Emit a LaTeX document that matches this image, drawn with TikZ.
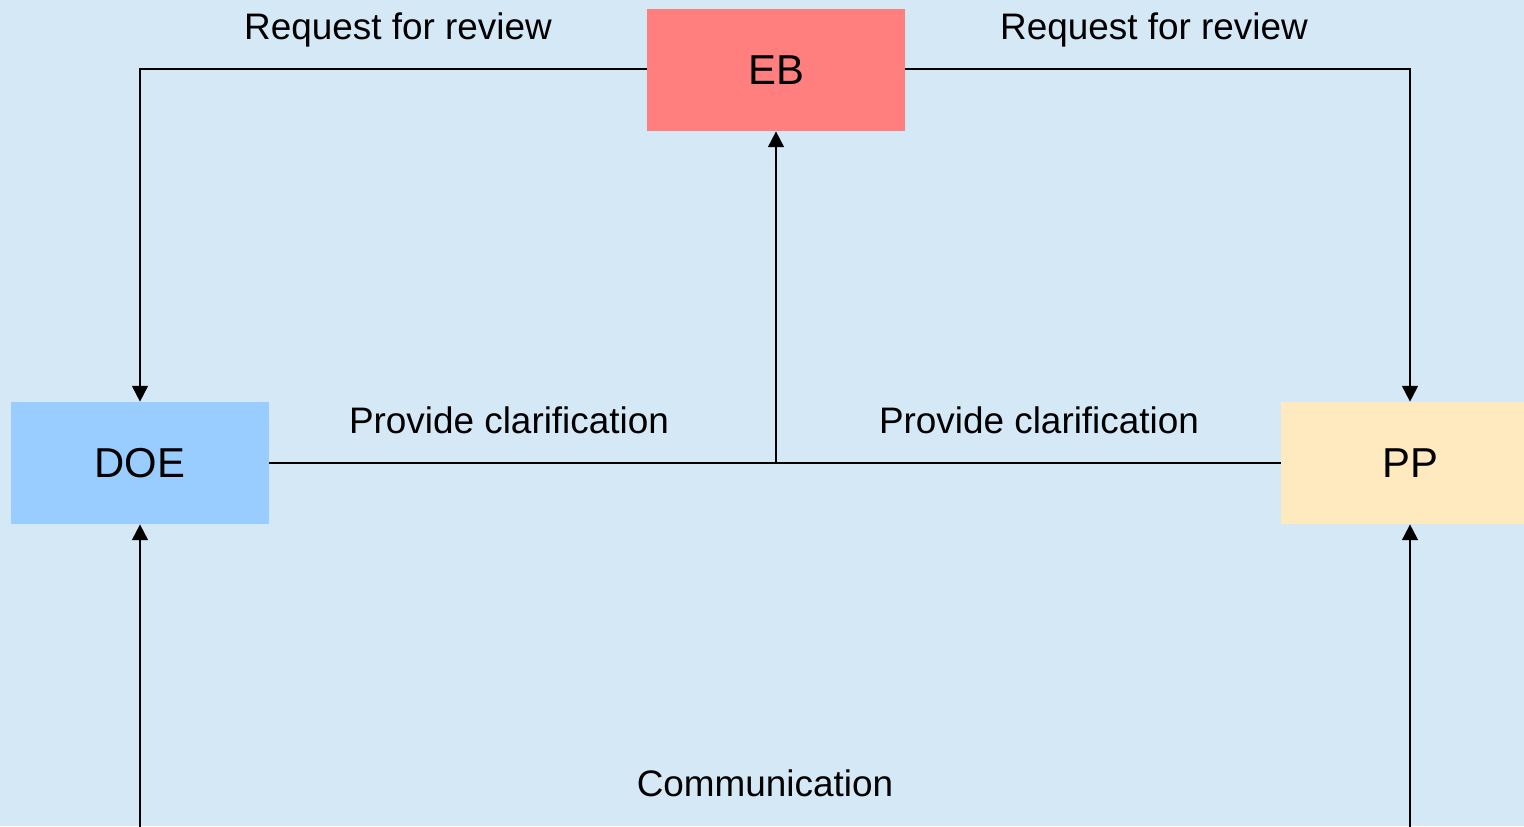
\documentclass[tikz,border=0pt]{standalone}
\usepackage{fontspec}
\setmainfont{Liberation Sans}
\usetikzlibrary{arrows.meta}
\definecolor{bgblue}{RGB}{213,232,245}
\definecolor{ebred}{RGB}{255,127,127}
\definecolor{doeblue}{RGB}{153,204,255}
\definecolor{ppcream}{RGB}{255,233,191}
\tikzset{
  entity/.style={minimum width=258*0.02cm, minimum height=122*0.02cm, inner sep=0pt,
    font=\fontsize{23.8}{28}\selectfont},
  flow/.style={line width=1.1pt, draw=black},
  arr/.style={flow, -{Triangle[length=9pt,width=9pt]}},
  lbl/.style={anchor=base, inner sep=0pt, font=\fontsize{21}{25}\selectfont}
}
\begin{document}
\begin{tikzpicture}[x=0.02cm, y=-0.02cm]
  \useasboundingbox (0,0) rectangle (1524,826);
  \fill[bgblue] (0,0) rectangle (1524,826);
  \clip (0,0) rectangle (1524,826);

  % organisations
  \node[entity, fill=ebred]   (eb)  at (776,70)  {EB};
  \node[entity, fill=doeblue] (doe) at (140,463) {DOE};
  \node[entity, fill=ppcream] (pp)  at (1410,463) {PP};

  % routing points
  \coordinate (junc) at (eb.south |- doe.east);
  \coordinate (doeFoot) at (140,830);
  \coordinate (ppFoot) at (1410,830);

  % review requests
  \draw[arr] (eb.west |- 0,69) -| (doe.north);
  \draw[arr] (eb.east |- 0,69) -| (pp.north);

  % clarifications
  \draw[flow] (doe.east) -- (junc);
  \draw[flow] (pp.west) -- (junc);
  \draw[arr] (junc) -- (eb.south);

  % communication
  \draw[arr] (doeFoot) -- (doe.south);
  \draw[arr] (ppFoot) -- (pp.south);

  % labels
  \node[lbl] (l1) at (398,39)  {Request for review};
  \node[lbl] (l2) at (1154,39) {Request for review};
  \node[lbl] (l3) at (509,433) {Provide clarification};
  \node[lbl] (l4) at (1039,433) {Provide clarification};
  \node[lbl] (l5) at (765,796) {Communication};
\end{tikzpicture}
\end{document}
